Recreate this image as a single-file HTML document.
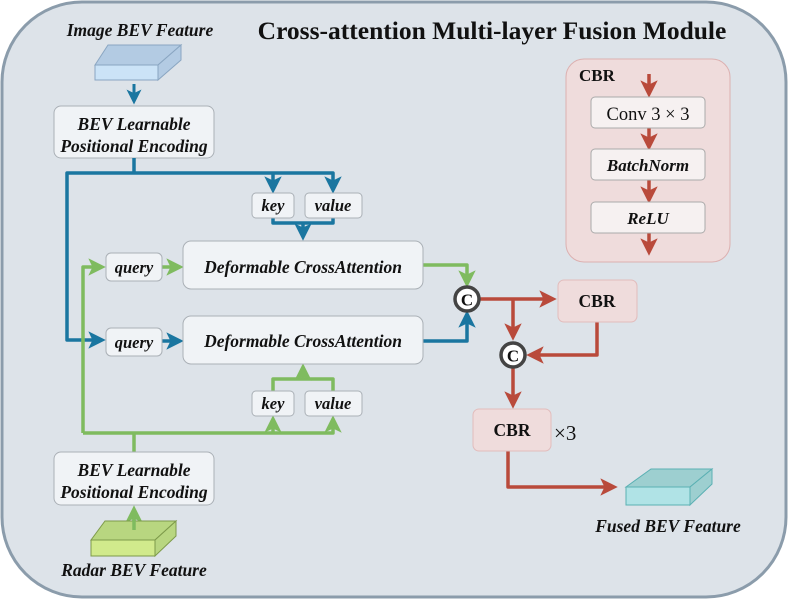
<!DOCTYPE html>
<html><head><meta charset="utf-8"><style>
html,body{margin:0;padding:0;background:#fff;}
svg{display:block;}
.it{font-family:"Liberation Serif",serif;font-style:italic;font-weight:bold;fill:#111;}
.bd{font-family:"Liberation Serif",serif;font-weight:bold;fill:#111;}
</style></head><body>
<svg width="789" height="601" viewBox="0 0 789 601" xmlns="http://www.w3.org/2000/svg">
<defs>
<marker id="ab" markerWidth="5" markerHeight="5" refX="2.5" refY="2.5" orient="auto" markerUnits="strokeWidth"><path d="M0,0 L5,2.5 L0,5 L1.2,2.5 Z" fill="#1a76a0"/></marker>
<marker id="ag" markerWidth="5" markerHeight="5" refX="2.5" refY="2.5" orient="auto" markerUnits="strokeWidth"><path d="M0,0 L5,2.5 L0,5 L1.2,2.5 Z" fill="#7fbb5f"/></marker>
<marker id="ar" markerWidth="5" markerHeight="5" refX="2.5" refY="2.5" orient="auto" markerUnits="strokeWidth"><path d="M0,0 L5,2.5 L0,5 L1.2,2.5 Z" fill="#b94a3b"/></marker>
</defs>
<rect x="2" y="2" width="784" height="595" rx="80" fill="#dde3e9" stroke="#8b9cab" stroke-width="3"/>
<text x="492" y="39" text-anchor="middle" class="bd" font-size="25.5">Cross-attention Multi-layer Fusion Module</text>

<text x="140" y="36" text-anchor="middle" class="it" font-size="17.5">Image BEV Feature</text>
<polygon points="95,65 108,45 181,45 158,65" fill="#b3cbe3" stroke="#8aa6c2" stroke-width="1"/>
<polygon points="158,65 181,45 181,60 158,80" fill="#b3cbe3" stroke="#8aa6c2" stroke-width="1"/>
<rect x="95" y="65" width="63" height="15" fill="#cbe3f7" stroke="#8aa6c2" stroke-width="1"/>
<line x1="134" y1="84" x2="134" y2="97" stroke="#1a76a0" stroke-width="3" marker-end="url(#ab)"/>

<rect x="54" y="106" width="160" height="52" rx="7" fill="#f0f3f6" stroke="#aab0b6"/>
<text x="134" y="130" text-anchor="middle" class="it" font-size="17.5">BEV Learnable</text>
<text x="134" y="152" text-anchor="middle" class="it" font-size="17.5">Positional Encoding</text>

<g fill="none" stroke="#1a76a0" stroke-width="3.5" stroke-linejoin="round">
<path d="M134,158 V173"/>
<path d="M273,173 H67 V340 H97" marker-end="url(#ab)"/>
<path d="M273,173 H333 V185" marker-end="url(#ab)"/>
<path d="M273,173 V185" marker-end="url(#ab)"/>
<path d="M273,218 V223 H333 V218"/>
<path d="M303,223 V232" marker-end="url(#ab)"/>
<path d="M162,341 H175" marker-end="url(#ab)"/>
<path d="M423,341 H467 V319" marker-end="url(#ab)"/>
</g>

<g fill="none" stroke="#7fbb5f" stroke-width="3.5" stroke-linejoin="round">
<path d="M83,433 V267 H97" marker-end="url(#ag)"/>
<path d="M162,267 H175" marker-end="url(#ag)"/>
<path d="M423,265 H467 V279" marker-end="url(#ag)"/>
<path d="M83,433 H333 V424" marker-end="url(#ag)"/>
<path d="M273,433 V424" marker-end="url(#ag)"/>
<path d="M134,452 V433"/>
<path d="M273,391 V379 H333 V391"/>
<path d="M303,379 V372" marker-end="url(#ag)"/>
<path d="M134,530 V514" marker-end="url(#ag)"/>
</g>

<g fill="#f0f3f6" stroke="#aab0b6">
<rect x="252" y="193" width="42" height="25" rx="4"/>
<rect x="305" y="193" width="57" height="25" rx="4"/>
<rect x="252" y="391" width="42" height="25" rx="4"/>
<rect x="305" y="391" width="57" height="25" rx="4"/>
<rect x="106" y="253" width="56" height="28" rx="5"/>
<rect x="106" y="328" width="56" height="28" rx="5"/>
<rect x="183" y="241" width="240" height="48" rx="8"/>
<rect x="183" y="316" width="240" height="48" rx="8"/>
<rect x="54" y="452" width="160" height="53" rx="7"/>
</g>
<text x="273" y="211" text-anchor="middle" class="it" font-size="16.5">key</text>
<text x="333" y="211" text-anchor="middle" class="it" font-size="16.5">value</text>
<text x="273" y="409" text-anchor="middle" class="it" font-size="16.5">key</text>
<text x="333" y="409" text-anchor="middle" class="it" font-size="16.5">value</text>
<text x="134" y="273" text-anchor="middle" class="it" font-size="16.5">query</text>
<text x="134" y="348" text-anchor="middle" class="it" font-size="16.5">query</text>
<text x="303" y="273" text-anchor="middle" class="it" font-size="17.5">Deformable CrossAttention</text>
<text x="303" y="347" text-anchor="middle" class="it" font-size="17.5">Deformable CrossAttention</text>
<text x="134" y="476" text-anchor="middle" class="it" font-size="17.5">BEV Learnable</text>
<text x="134" y="498" text-anchor="middle" class="it" font-size="17.5">Positional Encoding</text>

<polygon points="91,540 105,521 176,521 155,540" fill="#b8d680" stroke="#7d9a4a" stroke-width="1"/>
<polygon points="155,540 176,521 176,536 155,556" fill="#b8d680" stroke="#7d9a4a" stroke-width="1"/>
<rect x="91" y="540" width="64" height="16" fill="#d1ea8c" stroke="#7d9a4a" stroke-width="1"/>
<line x1="134" y1="530" x2="134" y2="514" stroke="#7fbb5f" stroke-width="3.5"/>
<text x="134" y="576" text-anchor="middle" class="it" font-size="17.5">Radar BEV Feature</text>

<g fill="none" stroke="#b94a3b" stroke-width="3.5" stroke-linejoin="round">
<path d="M479,299 H548" marker-end="url(#ar)"/>
<path d="M513,299 V332" marker-end="url(#ar)"/>
<path d="M597,322 V355 H535" marker-end="url(#ar)"/>
<path d="M513,367 V400" marker-end="url(#ar)"/>
<path d="M508,451 V487 H609" marker-end="url(#ar)"/>
</g>
<circle cx="467" cy="299" r="12" fill="#fff" stroke="#444" stroke-width="3.5"/>
<text x="467" y="305.5" text-anchor="middle" class="bd" font-size="17">C</text>
<circle cx="513" cy="355" r="12" fill="#fff" stroke="#444" stroke-width="3.5"/>
<text x="513" y="361.5" text-anchor="middle" class="bd" font-size="17">C</text>
<rect x="558" y="280" width="79" height="42" rx="6" fill="#efdcdc" stroke="#e2bcbc"/>
<text x="597" y="307" text-anchor="middle" class="bd" font-size="17.5">CBR</text>
<rect x="473" y="409" width="78" height="42" rx="6" fill="#efdcdc" stroke="#e2bcbc"/>
<text x="512" y="436" text-anchor="middle" class="bd" font-size="17.5">CBR</text>
<text x="554" y="440" font-family="Liberation Serif,serif" font-size="21" fill="#111">×3</text>

<polygon points="626,487 651,469 712,469 690,487" fill="#9dcfd0" stroke="#5ab0b3" stroke-width="1"/>
<polygon points="690,487 712,469 712,484 690,505" fill="#9dcfd0" stroke="#5ab0b3" stroke-width="1"/>
<rect x="626" y="487" width="64" height="18" fill="#b0e3e6" stroke="#5ab0b3" stroke-width="1"/>
<text x="668" y="532" text-anchor="middle" class="it" font-size="17.5">Fused BEV Feature</text>

<rect x="566" y="59" width="164" height="203" rx="18" fill="#efdcdc" stroke="#dcb0b0"/>
<text x="579" y="81" class="bd" font-size="17">CBR</text>
<g fill="none" stroke="#b94a3b" stroke-width="3.5">
<path d="M649,74 V89" marker-end="url(#ar)"/>
<path d="M649,128 V142" marker-end="url(#ar)"/>
<path d="M649,180 V195" marker-end="url(#ar)"/>
<path d="M649,233 V247" marker-end="url(#ar)"/>
</g>
<g fill="#f6f1f1" stroke="#aaa">
<rect x="591" y="97" width="114" height="31" rx="4"/>
<rect x="591" y="149" width="114" height="31" rx="4"/>
<rect x="591" y="202" width="114" height="31" rx="4"/>
</g>
<text x="648" y="120" text-anchor="middle" font-family="Liberation Serif,serif" font-size="18.5" fill="#111">Conv 3 × 3</text>
<text x="648" y="171" text-anchor="middle" class="it" font-size="17">BatchNorm</text>
<text x="648" y="224" text-anchor="middle" class="it" font-size="17">ReLU</text>
</svg>
</body></html>
